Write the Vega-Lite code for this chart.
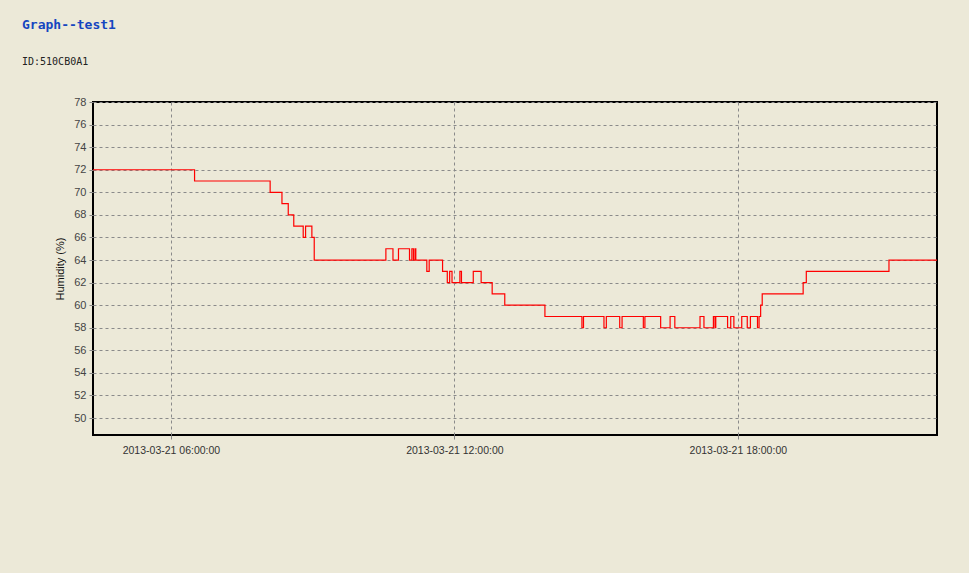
{
  "$schema": "https://vega.github.io/schema/vega-lite/v6.json",
  "autosize": {"type": "none"},
  "width": 844,
  "height": 333,
  "padding": {"left": 93, "top": 102, "right": 32, "bottom": 138},
  "background": "#ECE9D8",
  "title": {
    "text": "Graph--test1",
    "subtitle": "ID:510CB0A1",
    "anchor": "start",
    "frame": "group",
    "dx": -71,
    "offset": 29,
    "font": "DejaVu Sans Mono",
    "fontSize": 13,
    "fontWeight": "bold",
    "color": "#1546C0",
    "subtitleFont": "DejaVu Sans Mono",
    "subtitleFontSize": 10,
    "subtitleColor": "#222222",
    "subtitlePadding": 25
  },
  "config": {
    "view": {"stroke": "#000000", "strokeWidth": 2, "fill": "#ECE9D8"},
    "font": "Liberation Sans"
  },
  "data": {
    "values": [
      {"t": "2013-03-21T04:21:00", "h": 72},
      {"t": "2013-03-21T06:30:00", "h": 71},
      {"t": "2013-03-21T08:06:00", "h": 70},
      {"t": "2013-03-21T08:21:00", "h": 69},
      {"t": "2013-03-21T08:29:00", "h": 68},
      {"t": "2013-03-21T08:36:00", "h": 67},
      {"t": "2013-03-21T08:48:00", "h": 66},
      {"t": "2013-03-21T08:51:00", "h": 67},
      {"t": "2013-03-21T08:59:00", "h": 66},
      {"t": "2013-03-21T09:02:00", "h": 64},
      {"t": "2013-03-21T10:33:00", "h": 65},
      {"t": "2013-03-21T10:42:00", "h": 64},
      {"t": "2013-03-21T10:49:00", "h": 65},
      {"t": "2013-03-21T11:03:00", "h": 64},
      {"t": "2013-03-21T11:06:00", "h": 65},
      {"t": "2013-03-21T11:08:00", "h": 64},
      {"t": "2013-03-21T11:10:00", "h": 65},
      {"t": "2013-03-21T11:11:00", "h": 64},
      {"t": "2013-03-21T11:25:00", "h": 63},
      {"t": "2013-03-21T11:28:00", "h": 64},
      {"t": "2013-03-21T11:45:00", "h": 63},
      {"t": "2013-03-21T11:51:00", "h": 62},
      {"t": "2013-03-21T11:54:00", "h": 63},
      {"t": "2013-03-21T11:57:00", "h": 62},
      {"t": "2013-03-21T12:07:00", "h": 63},
      {"t": "2013-03-21T12:09:00", "h": 62},
      {"t": "2013-03-21T12:24:00", "h": 63},
      {"t": "2013-03-21T12:34:00", "h": 62},
      {"t": "2013-03-21T12:48:00", "h": 61},
      {"t": "2013-03-21T13:04:00", "h": 60},
      {"t": "2013-03-21T13:55:00", "h": 59},
      {"t": "2013-03-21T14:42:00", "h": 58},
      {"t": "2013-03-21T14:44:00", "h": 59},
      {"t": "2013-03-21T15:10:00", "h": 58},
      {"t": "2013-03-21T15:13:00", "h": 59},
      {"t": "2013-03-21T15:30:00", "h": 58},
      {"t": "2013-03-21T15:33:00", "h": 59},
      {"t": "2013-03-21T16:00:00", "h": 58},
      {"t": "2013-03-21T16:02:00", "h": 59},
      {"t": "2013-03-21T16:22:00", "h": 58},
      {"t": "2013-03-21T16:34:00", "h": 59},
      {"t": "2013-03-21T16:40:00", "h": 58},
      {"t": "2013-03-21T17:12:00", "h": 59},
      {"t": "2013-03-21T17:17:00", "h": 58},
      {"t": "2013-03-21T17:29:00", "h": 59},
      {"t": "2013-03-21T17:31:00", "h": 58},
      {"t": "2013-03-21T17:32:00", "h": 59},
      {"t": "2013-03-21T17:47:00", "h": 58},
      {"t": "2013-03-21T17:51:00", "h": 59},
      {"t": "2013-03-21T17:55:00", "h": 58},
      {"t": "2013-03-21T18:05:00", "h": 59},
      {"t": "2013-03-21T18:12:00", "h": 58},
      {"t": "2013-03-21T18:16:00", "h": 59},
      {"t": "2013-03-21T18:25:00", "h": 58},
      {"t": "2013-03-21T18:27:00", "h": 59},
      {"t": "2013-03-21T18:29:00", "h": 60},
      {"t": "2013-03-21T18:31:00", "h": 61},
      {"t": "2013-03-21T19:23:00", "h": 62},
      {"t": "2013-03-21T19:27:00", "h": 63},
      {"t": "2013-03-21T21:12:00", "h": 64},
      {"t": "2013-03-21T22:13:00", "h": 64}
    ]
  },
  "mark": {"type": "line", "color": "#FF0000", "strokeWidth": 1.2, "interpolate": "step-after", "clip": true},
  "encoding": {
    "x": {
      "field": "t",
      "type": "temporal",
      "scale": {"domain": [{"year": 2013, "month": 3, "date": 21, "hours": 4, "minutes": 21}, {"year": 2013, "month": 3, "date": 21, "hours": 22, "minutes": 13}]},
      "axis": {
        "title": null,
        "values": [
          {"year": 2013, "month": 3, "date": 21, "hours": 6},
          {"year": 2013, "month": 3, "date": 21, "hours": 12},
          {"year": 2013, "month": 3, "date": 21, "hours": 18}
        ],
        "format": "%Y-%m-%d %H:%M:%S",
        "labelFontSize": 10.5,
        "labelColor": "#333333",
        "labelPadding": 6,
        "tickSize": 4,
        "tickColor": "#888888",
        "domain": false,
        "grid": true,
        "gridDash": [3, 3],
        "gridColor": "#8A8A8A",
        "gridWidth": 1
      }
    },
    "y": {
      "field": "h",
      "type": "quantitative",
      "scale": {"domain": [48.5, 78], "nice": false, "zero": false},
      "axis": {
        "title": "Humidity (%)",
        "titleFontSize": 11,
        "titleFontWeight": "normal",
        "titleColor": "#111111",
        "titlePadding": 8,
        "values": [50, 52, 54, 56, 58, 60, 62, 64, 66, 68, 70, 72, 74, 76, 78],
        "labelFontSize": 11,
        "labelColor": "#444444",
        "labelPadding": 3,
        "tickSize": 4,
        "tickColor": "#888888",
        "domain": false,
        "grid": true,
        "gridDash": [3, 3],
        "gridColor": "#8A8A8A",
        "gridWidth": 1
      }
    }
  }
}
